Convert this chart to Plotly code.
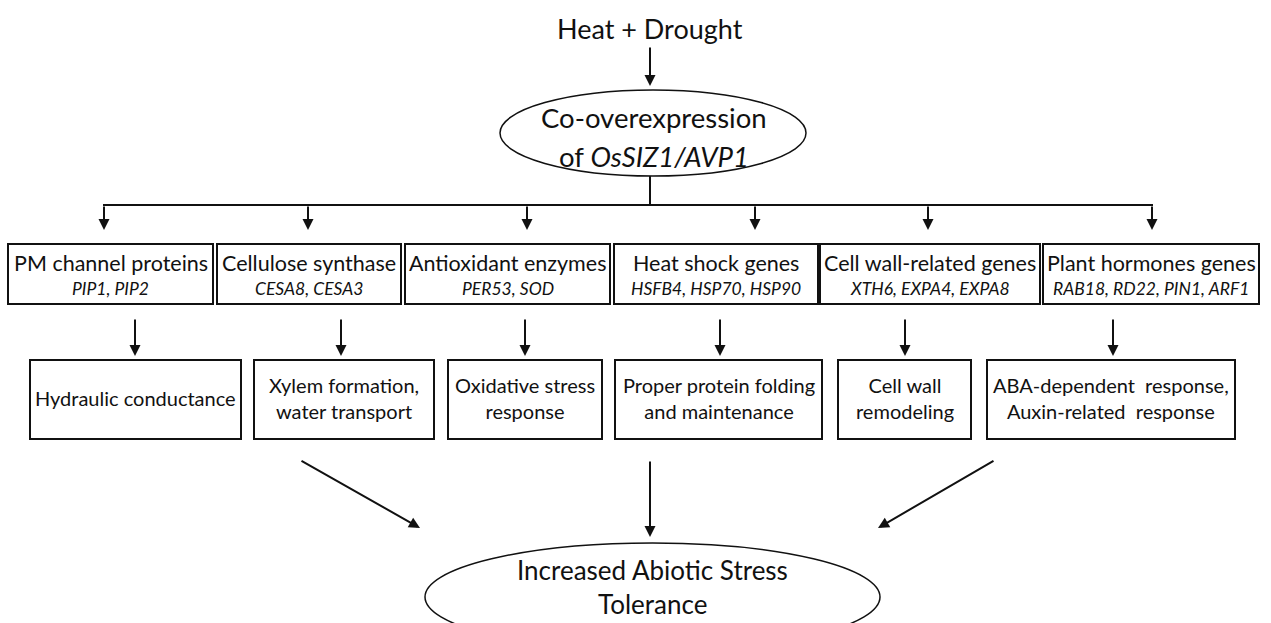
import plotly.graph_objects as go

# ---------------- content ----------------
top_stimulus = "Heat + Drought"
center_lines = ["Co-overexpression", "of <i>OsSIZ1/AVP1</i>"]
gene_groups = ["PM channel proteins", "Cellulose synthase", "Antioxidant enzymes",
               "Heat shock genes", "Cell wall-related genes", "Plant hormones genes"]
gene_lists = ["PIP1, PIP2", "CESA8, CESA3", "PER53, SOD",
              "HSFB4, HSP70, HSP90", "XTH6, EXPA4, EXPA8", "RAB18, RD22, PIN1, ARF1"]
responses = ["Hydraulic conductance", "Xylem formation,<br>water transport",
             "Oxidative stress<br>response", "Proper protein folding<br>and maintenance",
             "Cell wall<br>remodeling", "ABA-dependent  response,<br>Auxin-related  response"]
outcome_lines = ["Increased Abiotic Stress", "Tolerance"]

# ---------------- layout (pixel coordinates) ----------------
W, H = 1271, 623
row1_x = [(8, 213), (217, 401), (405, 610), (614, 818), (820, 1040), (1043, 1259)]
row1_y = (244, 304)
row1_arrow_x = [104, 308, 527, 755, 928, 1152]
row2_x = [(30, 241), (254, 434), (448, 602), (615, 822), (838, 971), (987, 1235)]
row2_y = (360, 439)
row2_arrow_x = [135, 341, 525, 720, 905, 1113]

FONT = "Lato"
BLACK = "#111111"

fig = go.Figure()
shapes = []
annotations = []


def arrow(x0, y0, x1, y1, size=1.1):
    annotations.append(dict(x=x1, y=y1, ax=x0, ay=y0, xref="x", yref="y",
                            axref="x", ayref="y", text="", showarrow=True,
                            arrowhead=2, arrowsize=size, arrowwidth=2,
                            arrowcolor=BLACK, standoff=0, startstandoff=0))


def text(x, y, s, size, italic=False, weight="normal"):
    annotations.append(dict(x=x, y=y, xref="x", yref="y", text=s, showarrow=False,
                            font=dict(family=FONT, size=size, color=BLACK,
                                      style="italic" if italic else "normal",
                                      weight=weight),
                            xanchor="center", yanchor="middle"))


# title + arrow
text(650, 28, top_stimulus, 27)
arrow(650, 46, 650, 86)

# upper ellipse
shapes.append(dict(type="circle", xref="x", yref="y", x0=500, x1=806, y0=90, y1=176,
                   line=dict(color=BLACK, width=1.5)))
text(654, 117, center_lines[0], 27.5)
text(654, 156, center_lines[1], 27.5)

# connector
shapes.append(dict(type="line", xref="x", yref="y", x0=650, x1=650, y0=176, y1=205,
                   line=dict(color=BLACK, width=2)))
shapes.append(dict(type="line", xref="x", yref="y", x0=row1_arrow_x[0] - 1, x1=row1_arrow_x[-1] + 1,
                   y0=205, y1=205, line=dict(color=BLACK, width=2)))

for i in range(6):
    ax_ = row1_arrow_x[i]
    arrow(ax_, 205, ax_, 230)
    x0, x1 = row1_x[i]
    shapes.append(dict(type="rect", xref="x", yref="y", x0=x0, x1=x1, y0=row1_y[0], y1=row1_y[1],
                       line=dict(color=BLACK, width=2)))
    cx = (x0 + x1) / 2
    text(cx, 263, gene_groups[i], 21.5)
    text(cx, 288, gene_lists[i], 17.5, italic=True)

    bx = row2_arrow_x[i]
    arrow(bx, 318, bx, 356)
    x0, x1 = row2_x[i]
    shapes.append(dict(type="rect", xref="x", yref="y", x0=x0, x1=x1, y0=row2_y[0], y1=row2_y[1],
                       line=dict(color=BLACK, width=2)))
    text((x0 + x1) / 2, 398, responses[i], 20)

# converging arrows
arrow(300, 460, 420, 528)
arrow(650, 460, 650, 537)
arrow(995, 460, 878, 528)

# lower ellipse
shapes.append(dict(type="circle", xref="x", yref="y", x0=425, x1=880, y0=543, y1=651,
                   line=dict(color=BLACK, width=1.5)))
text(652, 570, outcome_lines[0], 26)
text(652, 604, outcome_lines[1], 26)

fig.update_layout(
    width=W, height=H, margin=dict(l=0, r=0, t=0, b=0),
    paper_bgcolor="white", plot_bgcolor="white",
    xaxis=dict(range=[0, W], visible=False, fixedrange=True),
    yaxis=dict(range=[H, 0], visible=False, fixedrange=True),
    shapes=shapes, annotations=annotations, showlegend=False,
)

fig.write_html("out.html", config={"displayModeBar": False},
               post_script="document.body.style.margin='0';")
